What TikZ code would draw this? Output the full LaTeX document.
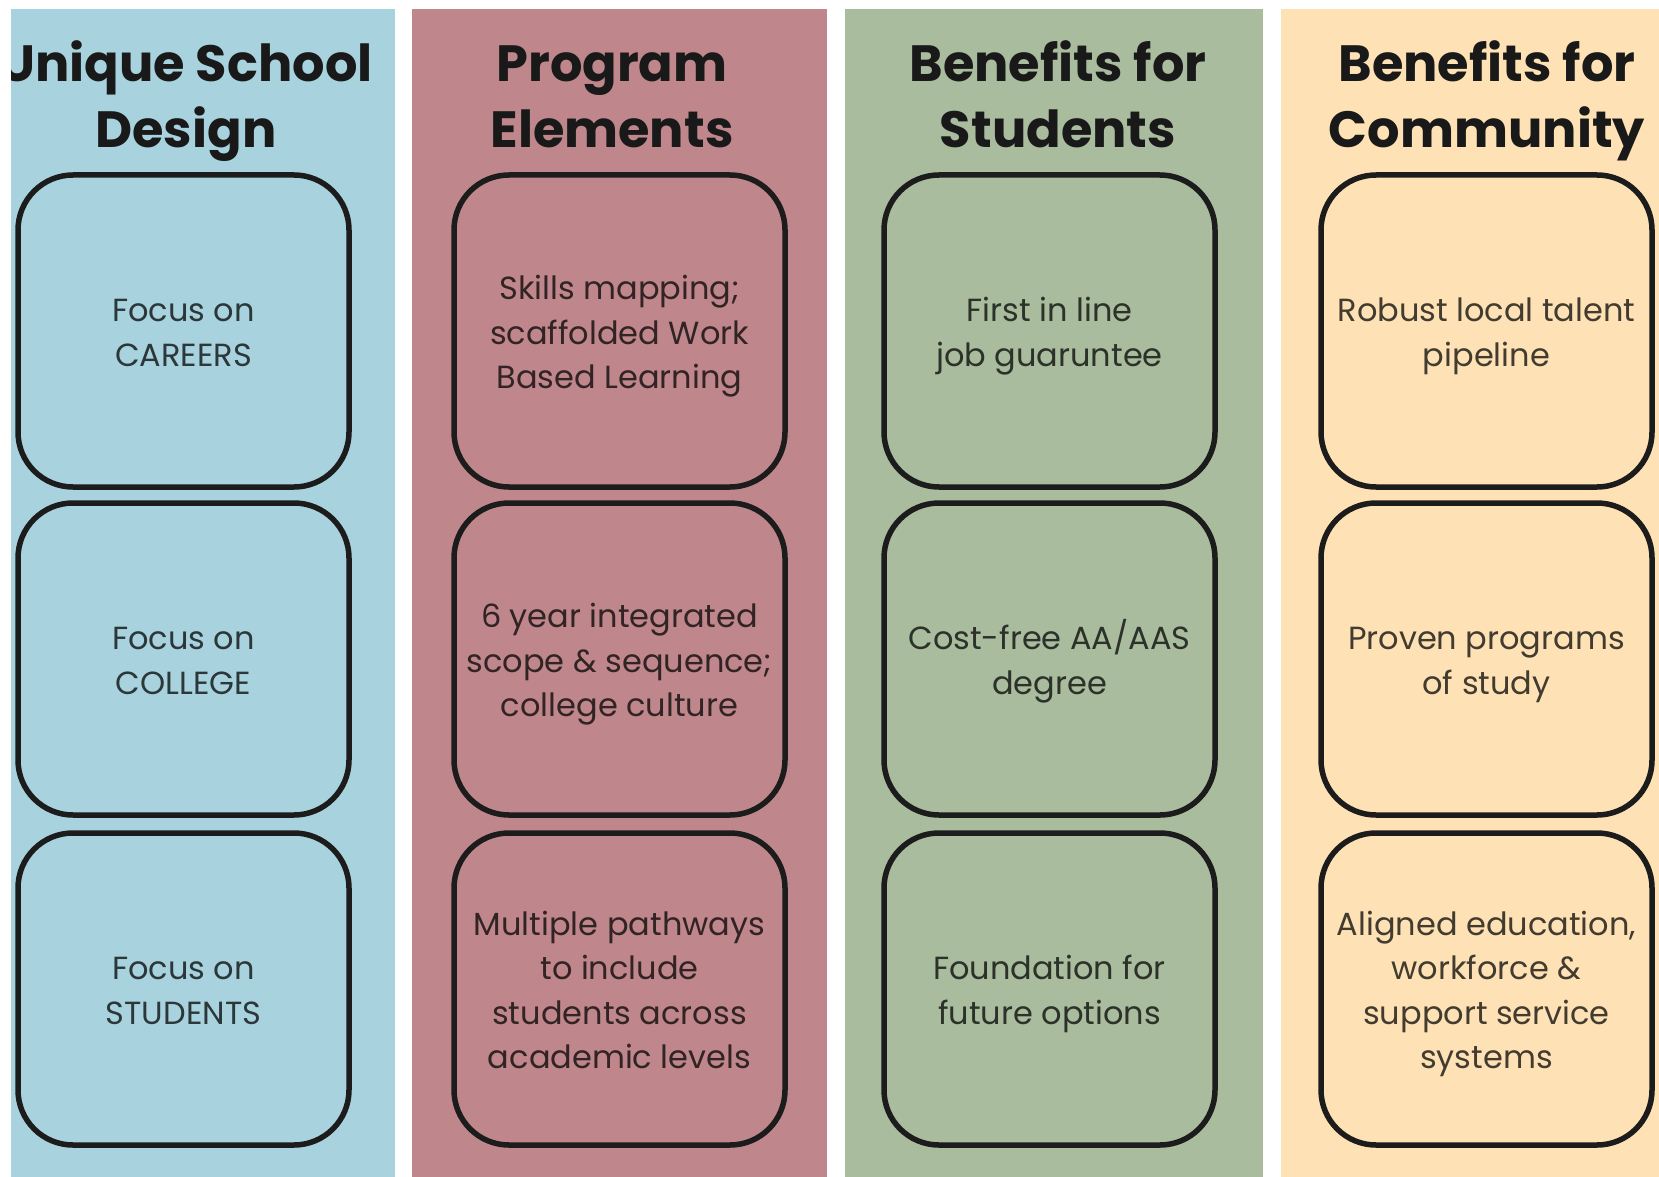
\documentclass[tikz,border=0pt]{standalone}
\usepackage{fontspec}
\setmainfont{Poppins}
\newfontfamily\headfont{Poppins}[UprightFont=* Bold]
\newcommand{\topstrut}{\rule{0pt}{39.5pt}}
\definecolor{pblue}{RGB}{168,211,222}
\definecolor{ppink}{RGB}{191,135,139}
\definecolor{pgreen}{RGB}{169,188,157}
\definecolor{ppeach}{RGB}{254,226,181}
\definecolor{edge}{RGB}{28,28,28}
\definecolor{headc}{RGB}{25,25,25}
\tikzset{
  panel/.style={fill=#1, draw=none},
  cell/.style={draw=edge, line width=5.5pt, rounded corners=55pt,
    minimum width=331pt, minimum height=312pt, inner sep=0pt,
    align=center, text=black!74!#1,
    font=\fontsize{32}{44.5}\selectfont},
  head/.style={align=center, text=headc, inner sep=0pt,
    font=\headfont\fontsize{51}{66}\selectfont}
}
\begin{document}
\begin{tikzpicture}[x=1pt,y=-1pt]
\useasboundingbox[fill=white] (0,0) rectangle (1659,1177);
% panels
\path[panel=pblue] (11,9) rectangle (395,1177);
\path[panel=ppink] (412,9) rectangle (827,1177);
\path[panel=pgreen] (845,9) rectangle (1263,1177);
\path[panel=ppeach] (1281,9) rectangle (1659,1177);
% headings
\begin{scope}
\clip (11,9) rectangle (395,1177);
\node[head] (h1) at (186,101) {\strut Unique School\\\strut Design};
\end{scope}
\node[head] (h2) at (612,101) {\strut Program\\\strut Elements};
\node[head] (h3) at (1058,101) {\strut Benefits for\\\strut Students};
\node[head] (h4) at (1487,101) {\strut Benefits for\\\strut Community};
% column 1
\node[cell=pblue] (a1) at (183.5,331) {\topstrut Focus on\\\strut CAREERS};
\node[cell=pblue] (a2) at (183.5,659) {\topstrut Focus on\\\strut COLLEGE};
\node[cell=pblue] (a3) at (183.5,989) {\topstrut Focus on\\\strut STUDENTS};
% column 2
\node[cell=ppink] (b1) at (619.5,331) {\topstrut Skills mapping;\\\strut scaffolded Work\\\strut Based Learning};
\node[cell=ppink] (b2) at (619.5,659) {\topstrut 6 year integrated\\\strut scope \& sequence;\\\strut college culture};
\node[cell=ppink] (b3) at (619.5,989) {\topstrut Multiple pathways\\\strut to include\\\strut students across\\\strut academic levels};
% column 3
\node[cell=pgreen] (c1) at (1049.5,331) {\topstrut First in line\\\strut job guaruntee};
\node[cell=pgreen] (c2) at (1049.5,659) {\topstrut Cost-free AA/AAS\\\strut degree};
\node[cell=pgreen] (c3) at (1049.5,989) {\topstrut Foundation for\\\strut future options};
% column 4
\node[cell=ppeach] (d1) at (1486.5,331) {\topstrut Robust local talent\\\strut pipeline};
\node[cell=ppeach] (d2) at (1486.5,659) {\topstrut Proven programs\\\strut of study};
\node[cell=ppeach] (d3) at (1486.5,989) {\topstrut Aligned education,\\\strut workforce \&\\\strut support service\\\strut systems};
\end{tikzpicture}
\end{document}
